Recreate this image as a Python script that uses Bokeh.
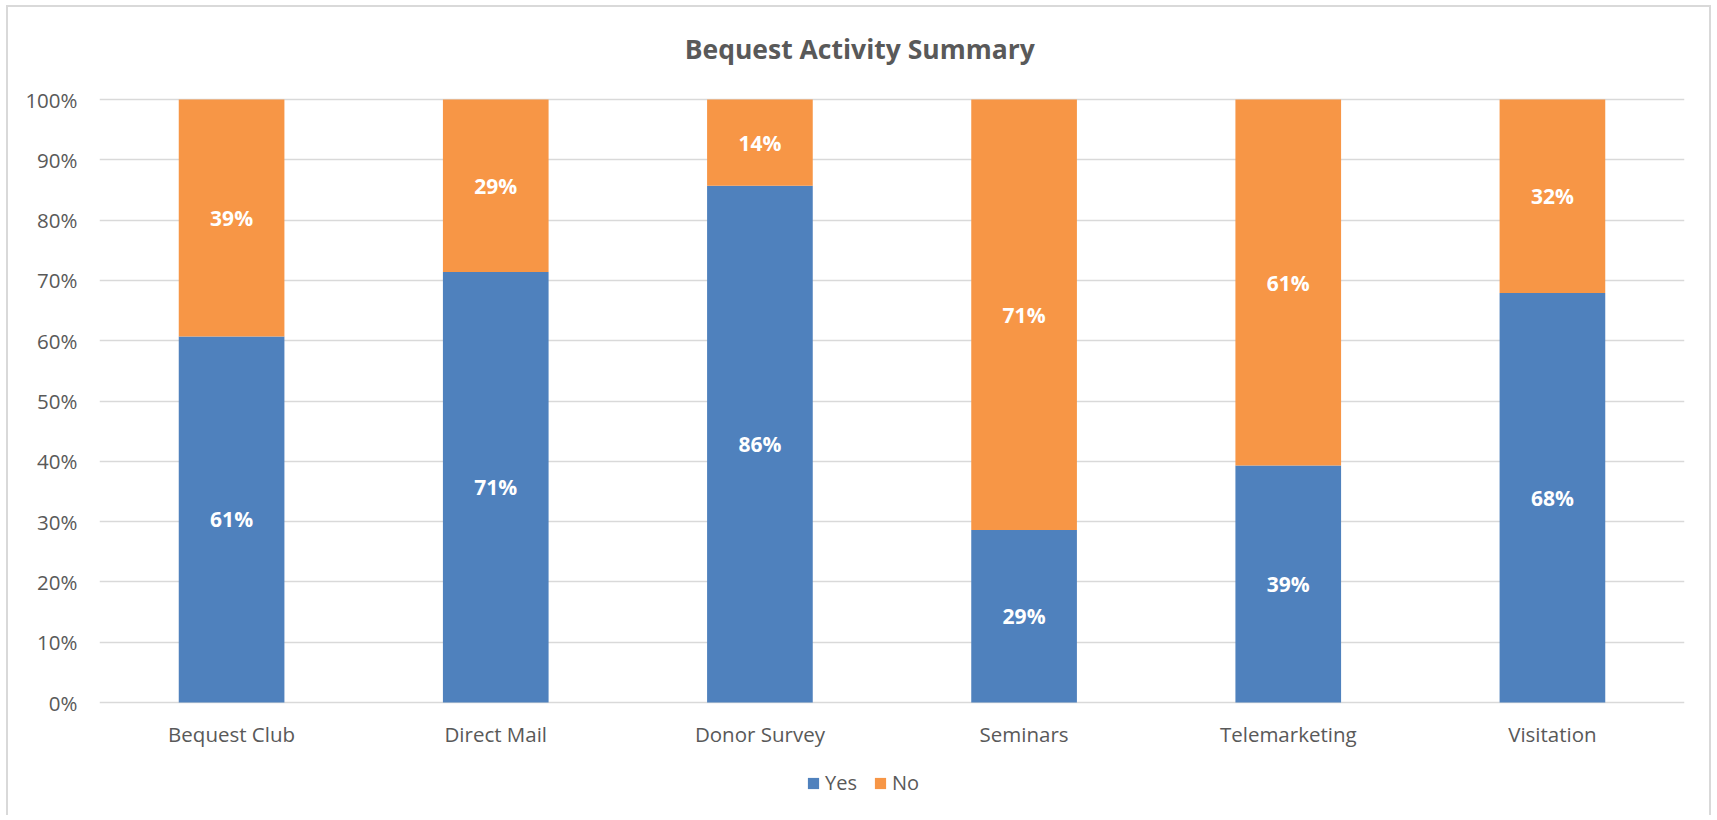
from bokeh.plotting import figure
from bokeh.models import ColumnDataSource, Legend, LegendItem, NumeralTickFormatter, FactorRange, FixedTicker
from bokeh.core.properties import value
from bokeh.transform import dodge
from bokeh.embed import file_html
from bokeh.resources import INLINE

TITLE = "Bequest Activity Summary"
categories = ["Bequest Club", "Direct Mail", "Donor Survey", "Seminars", "Telemarketing", "Visitation"]
yes_vals = [0.607, 0.714, 0.857, 0.286, 0.393, 0.679]
no_vals = [0.393, 0.286, 0.143, 0.714, 0.607, 0.321]
series = ["Yes", "No"]
colors = ["#4F81BD", "#F79646"]
y_ticks = [0.0, 0.1, 0.2, 0.3, 0.4, 0.5, 0.6, 0.7, 0.8, 0.9, 1.0]

FONT = "Open Sans"
GREY = "#595959"

# layout (pixels): 0%..100% spans 603px; frame extended above (title) and below (labels, legend)
UNIT_PX = 603.0
TOP_PX = 90.0
BOTTOM_PX = 104.0
Y_END = 1 + TOP_PX / UNIT_PX
Y0 = -BOTTOM_PX / UNIT_PX
LABEL_Y = -31.0 / UNIT_PX
TITLE_Y = 1 + 51.0 / UNIT_PX
TITLE_DX = 0.378  # title centred on the whole chart, right of "Donor Survey"

src = ColumnDataSource(dict(
    cat=categories, Yes=yes_vals, No=no_vals,
    yes_mid=[v / 2 for v in yes_vals],
    no_mid=[y + n / 2 for y, n in zip(yes_vals, no_vals)],
    yes_lab=["{:.0f}%".format(v * 100) for v in yes_vals],
    no_lab=["{:.0f}%".format(v * 100) for v in no_vals],
    lab_y=[LABEL_Y] * len(categories),
))
title_src = ColumnDataSource(dict(x=["Donor Survey"], y=[TITLE_Y], t=[TITLE]))

x_range = FactorRange(*categories, range_padding=0)
p = figure(x_range=x_range, y_range=(Y0, Y_END),
           width=1705, height=810, output_backend="svg", toolbar_location=None,
           min_border_left=91, min_border_right=29, min_border_top=2, min_border_bottom=11)
p.title.visible = False
p.styles = {"border-top": "2px solid #D9D9D9", "border-left": "2px solid #D9D9D9",
            "border-right": "2px solid #D9D9D9", "margin-left": "6px", "margin-top": "5px"}

rs = p.vbar_stack(series, x="cat", width=0.4, color=colors, source=src,
                  line_color=None)

p.text(x="cat", y="yes_mid", text="yes_lab", source=src, text_color="white",
       text_font=value(FONT), text_font_style="bold", text_font_size="21px",
       text_align="center", text_baseline="middle")
p.text(x="cat", y="no_mid", text="no_lab", source=src, text_color="white",
       text_font=value(FONT), text_font_style="bold", text_font_size="21px",
       text_align="center", text_baseline="middle")
# category labels
p.text(x="cat", y="lab_y", text="cat", source=src, text_color=GREY,
       text_font=value(FONT), text_font_size="20.5px",
       text_align="center", text_baseline="middle")
# title
p.text(x=dodge("x", TITLE_DX, range=x_range), y="y", text="t", source=title_src,
       text_color=GREY, text_font=value(FONT), text_font_style="bold",
       text_font_size="26.5px", text_align="center", text_baseline="middle")

p.yaxis.ticker = FixedTicker(ticks=y_ticks)
p.yaxis.formatter = NumeralTickFormatter(format="0%")
p.yaxis.axis_line_color = None
p.yaxis.major_tick_line_color = None
p.yaxis.minor_tick_line_color = None
p.yaxis.major_label_text_font = FONT
p.yaxis.major_label_text_font_size = "20.5px"
p.yaxis.major_label_text_color = GREY
p.yaxis.major_label_standoff = 16

p.xaxis.visible = False

p.xgrid.grid_line_color = None
p.ygrid.grid_line_color = "#D9D9D9"
p.ygrid.grid_line_width = 1.5
p.outline_line_color = None

legend = Legend(items=[LegendItem(label=s, renderers=[r]) for s, r in zip(series, rs)],
                orientation="horizontal", location=(707, 10),
                glyph_width=14, glyph_height=14, label_text_font=FONT,
                label_text_font_size="20px", label_text_color=GREY,
                border_line_color=None, background_fill_alpha=0, spacing=16,
                label_standoff=5, padding=0, margin=0)
p.add_layout(legend, "center")

open("out.html", "w").write(file_html(p, INLINE))
